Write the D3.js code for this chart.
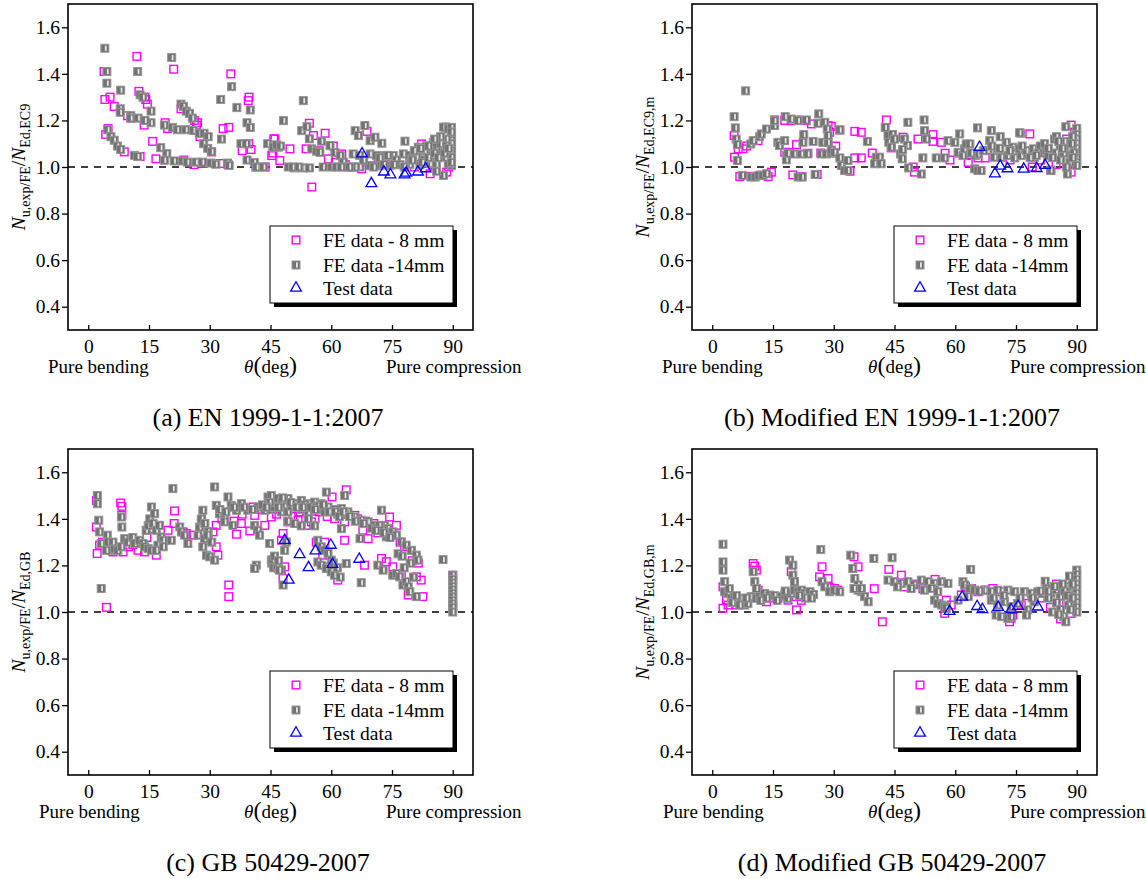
<!DOCTYPE html>
<html>
<head>
<meta charset="utf-8">
<script src="https://cdn.jsdelivr.net/npm/d3@7"></script>
<style>
  body { margin: 0; background: #fff; }
  svg { display: block; font-family: "Liberation Serif", "Times New Roman", serif; }
  svg text { font-family: "Liberation Serif", "Times New Roman", serif; }
</style>
</head>
<body>
<svg id="chart" width="1146" height="879"></svg>
<script>
// ---- data: [theta (deg), N_u,exp/FE / N_Ed] ----
const xTicks = [0, 15, 30, 45, 60, 75, 90];
const yTicks = [0.4, 0.6, 0.8, 1.0, 1.2, 1.4, 1.6];
const legendLabels = ['FE data - 8 mm', 'FE data -14mm', 'Test data'];
const captions = ['(a) EN 1999-1-1:2007', '(b) Modified EN 1999-1-1:2007',
                  '(c) GB 50429-2007', '(d) Modified GB 50429-2007'];
const ySubs = [['u,exp/FE', 'Ed,EC9'], ['u,exp/FE', 'Ed,EC9,m'],
               ['u,exp/FE', 'Ed,GB'], ['u,exp/FE', 'Ed,GB,m']];

// (a) EN 1999-1-1
const fe8A = [[3.9,1.41],[4.1,1.29],[5.4,1.30],[6.4,1.26],[12.0,1.475],[21.1,1.42],[12.5,1.325],[14.2,1.29],
  [14.6,1.27],[9.7,1.22],[10.5,1.21],[13.8,1.18],[19.0,1.19],[19.6,1.165],[22.9,1.25],[26.2,1.20],[26.7,1.18],
  [27.6,1.13],[30.4,1.065],[4.9,1.165],[4.3,1.14],[8.9,1.065],[12.8,1.045],[15.9,1.11],[16.7,1.035],[23.6,1.03],
  [26.1,1.01],[28.4,1.015],[32.5,1.015],[34.5,1.01],[35.2,1.40],[39.7,1.30],[39.5,1.285],[33.3,1.165],[34.7,1.17],
  [39.6,1.10],[38.0,1.07],[40.2,1.075],[41.4,1.00],[43.7,1.00],[45.8,1.12],[45.6,1.06],[46.1,1.121],[45.3,1.049],
  [47.3,1.028],[49.8,1.078],[54.6,1.188],[55.6,1.135],[58.5,1.145],[53.8,1.078],[55.2,0.914],[59.3,1.035],
  [62.6,1.056],[68.8,1.153],[65.0,0.999],[67.5,0.992],[69.6,1.006],[71.2,1.006],[71.6,1.035],[82.3,1.099],
  [84.4,0.971],[88.5,0.978],[88.3,1.171],[79.4,1.028],[61.0,1.02],[63.5,1.01],[74.0,1.01],[76.0,1.02],[80.5,1.0],
  [85.0,1.01],[87.0,1.05],[89.5,1.12],[86.0,1.09],[89.0,1.0],[60.5,1.09],[57.0,1.07],[14.0,1.30],[27.0,1.19]];
const fe14A = [[4.1,1.51],[4.6,1.41],[4.6,1.36],[8.0,1.33],[12.2,1.41],[20.6,1.47],[12.8,1.31],[13.5,1.30],
  [15.5,1.24],[15.5,1.19],[7.9,1.25],[7.9,1.235],[10.5,1.22],[10.5,1.21],[12.3,1.21],[14.0,1.20],[22.9,1.27],
  [23.5,1.26],[24.2,1.24],[25.0,1.23],[25.7,1.21],[18.8,1.18],[20.8,1.17],[22.0,1.16],[24.1,1.16],[26.0,1.157],
  [27.4,1.145],[28.6,1.145],[29.6,1.13],[28.5,1.10],[29.5,1.08],[30.5,1.065],[32.7,1.29],[35.4,1.345],[36.7,1.255],
  [32.9,1.12],[39.2,1.19],[40.0,1.17],[40.0,1.245],[37.7,1.10],[39.0,1.10],[39.2,1.03],[41.0,1.02],[44.3,1.10],
  [45.9,1.085],[4.8,1.16],[5.6,1.13],[6.4,1.115],[7.2,1.09],[8.0,1.075],[11.4,1.05],[12.2,1.045],[17.9,1.083],
  [19.4,1.057],[18.8,1.029],[21.2,1.026],[23.3,1.026],[24.5,1.021],[26.6,1.021],[28.2,1.021],[30.3,1.017],
  [31.5,1.012],[34.4,1.017],[34.8,1.007],[41.6,1.0],[43.3,1.0],[53.1,1.285],[48.2,1.199],[45.7,1.085],[46.9,1.085],
  [49.4,1.0],[51.0,0.996],[53.1,0.996],[54.6,0.996],[52.7,1.156],[54.0,1.173],[54.6,1.121],[57.6,1.111],
  [59.7,1.092],[60.9,1.063],[62.2,1.049],[63.0,1.021],[55.2,1.078],[56.4,1.068],[57.2,1.063],[58.0,1.0],[60.1,1.0],
  [61.3,1.0],[63.8,1.0],[65.4,1.0],[67.1,1.0],[65.9,1.156],[66.7,1.135],[68.3,1.178],[69.6,1.113],[70.8,1.128],
  [72.5,1.102],[65.4,1.056],[69.6,1.056],[71.2,1.049],[73.3,1.049],[75.3,1.049],[77.8,1.056],[79.4,1.049],
  [81.1,1.056],[69.6,1.006],[72.0,1.006],[74.5,1.006],[77.0,1.01],[79.4,1.01],[81.9,1.01],[84.4,1.014],[86.0,1.01],
  [78.2,1.111],[81.5,1.085],[83.6,1.092],[85.2,1.106],[86.4,1.116],[87.7,1.171],[88.9,1.163],[89.7,1.142],
  [89.7,1.113],[89.7,1.085],[89.7,1.056],[89.7,1.028],[89.7,1.006],[88.9,1.014],[88.1,1.042],[87.3,1.063],
  [86.0,1.085],[84.4,1.071],[83.1,1.063],[82.3,1.042],[81.1,1.042],[79.9,1.035],[87.7,0.964],[86.0,0.982],
  [89.7,1.17],[89.7,1.15],[89.7,1.10],[89.7,1.07],[89.7,1.04],[89.7,1.02],[88.5,1.12],[87.0,1.10],[85.0,1.05],
  [83.0,1.03],[80.5,1.07],[76.0,1.03],[74.0,1.05],[72.0,1.04],[67.0,1.05],[68.0,1.03],[66.0,1.0],[50.5,1.0],
  [52.0,1.0],[46.5,1.095],[47.5,1.09],[62.5,1.0],[64.5,1.0],[70.5,1.0],[73.0,1.01],[75.5,1.01],[78.0,1.0],
  [80.0,1.03],[82.5,1.02],[84.0,1.04],[85.5,1.06],[86.5,1.04],[88.0,1.06],[88.5,1.09],[87.0,1.13],[89.0,1.08],
  [85.5,1.12],[84.0,1.09],[82.0,1.08]];
const testA = [[67.6,1.057],[69.9,0.929],[73.0,0.979],[74.6,0.967],[78.1,0.967],[78.5,0.974],[81.4,0.979],[83.3,0.993]];

// (b) Modified EN 1999-1-1
const fe8B = [[5.4,1.135],[5.5,1.042],[6.4,1.078],[7.6,1.078],[6.8,0.959],[11.3,1.113],[13.8,0.959],[14.6,0.978],
  [15.4,1.202],[17.9,1.2],[19.5,1.199],[21.2,1.202],[23.2,1.199],[24.5,1.185],[28.6,1.178],[17.9,1.063],[19.1,1.063],
  [20.8,1.096],[23.6,1.059],[19.9,0.966],[22.1,0.959],[25.9,0.968],[29.4,1.175],[29.0,1.149],[31.5,1.159],
  [35.2,1.153],[36.8,1.149],[34.0,0.982],[35.2,1.039],[36.8,1.039],[43.0,1.202],[44.2,1.082],[47.1,1.128],
  [49.6,1.0],[49.9,0.978],[50.8,1.12],[54.5,1.139],[54.5,1.11],[56.6,1.106],[57.5,1.059],[64.0,1.049],[65.6,1.039],
  [67.4,1.039],[78.4,1.142],[88.6,1.18],[83.6,0.986],[88.6,0.978],[84.9,1.01],[86.0,1.09],[81.0,1.03],[79.0,1.0],
  [70.5,1.05],[73.5,1.03],[76.0,1.06],[89.5,1.15],[87.5,1.12],[82.5,1.07],[63.2,1.02],[61.0,1.06],[58.7,1.03],
  [39.5,1.06],[40.5,1.03],[26.8,1.06],[30.5,1.09],[8.5,1.09],[9.5,0.96],[12.0,0.965]];
const fe14B = [[5.4,1.216],[5.7,1.168],[5.9,1.12],[6.2,1.096],[6.2,1.028],[8.25,1.327],[9.5,1.099],[10.1,1.113],
  [11.7,1.13],[12.1,1.142],[13.4,1.163],[15.4,1.178],[15.4,1.199],[16.2,1.106],[16.6,1.092],[17.9,1.113],
  [18.3,1.049],[18.3,1.031],[18.7,1.059],[18.0,1.216],[19.5,1.206],[21.2,1.199],[23.2,1.202],[20.3,1.056],
  [22.0,1.056],[23.6,1.056],[22.4,1.106],[22.6,1.139],[24.9,1.11],[26.3,1.228],[26.1,1.188],[27.8,1.192],
  [26.9,1.056],[28.2,1.056],[29.4,1.059],[27.3,1.106],[28.6,1.106],[29.4,1.073],[28.4,1.163],[28.6,1.135],
  [30.2,1.063],[31.5,1.039],[31.9,1.006],[33.5,1.028],[32.7,0.985],[33.5,0.985],[31.5,1.159],[38.3,1.11],
  [40.5,1.042],[41.3,1.042],[40.1,1.014],[41.7,1.014],[42.7,1.17],[43.4,1.135],[43.6,1.106],[44.2,1.085],
  [46.5,1.056],[46.9,1.035],[47.5,1.12],[48.2,1.092],[48.3,1.192],[48.5,0.996],[52.3,1.202],[52.4,1.156],
  [52.9,1.12],[52.0,1.039],[51.6,0.97],[55.3,1.039],[57.4,1.039],[58.2,1.113],[59.9,1.106],[61.1,1.142],
  [60.7,1.063],[61.9,1.049],[62.3,1.078],[62.7,1.099],[63.6,1.099],[65.5,1.168],[64.8,0.992],[65.6,0.985],
  [66.4,0.985],[64.9,1.049],[65.7,1.056],[68.9,1.156],[68.5,1.113],[68.1,1.071],[69.7,1.042],[71.4,1.042],
  [73.0,1.049],[74.7,1.039],[76.3,1.049],[77.9,1.056],[79.6,1.042],[70.5,1.08],[72.6,1.106],[74.2,1.085],
  [75.9,1.078],[77.6,1.071],[79.3,1.078],[76.2,1.145],[71.1,1.13],[75.9,1.147],[7.4,0.964],[9.7,0.957],
  [10.6,0.957],[11.5,0.964],[12.5,0.964],[13.4,0.971],[21.2,0.957],[22.2,0.957],[25.4,0.968],[87.3,1.173],
  [90,1.166],[90,1.14],[90,1.12],[90,1.10],[90,1.08],[90,1.06],[90,1.04],[90,1.02],[90,1.007],[87.7,0.97],
  [83.6,0.986],[84.5,1.12],[85.9,1.09],[87.0,1.11],[88.0,1.08],[88.6,1.05],[84.9,1.06],[82.2,1.07],[86.0,1.03],
  [83.0,1.05],[81.0,1.09],[80.5,1.06],[82.0,1.1],[85.0,1.13],[89.0,1.13],[86.8,1.06],[88.3,1.02],[64.0,1.06],
  [67.0,1.07],[69.0,1.09],[71.0,1.08],[73.5,1.07],[76.5,1.09],[78.5,1.04],[80.0,1.05],[83.0,1.08],[84.0,1.04],
  [85.5,1.11],[86.5,1.08],[88.8,1.1],[89.3,1.06],[87.5,1.0],[89.0,1.04],[44.5,1.14],[45.0,1.12],[47.0,1.075]];
const testB = [[66.0,1.085],[69.8,0.971],[71.1,1.004],[72.9,0.993],[76.9,0.991],[80.1,0.994],[82.2,1.007]];

// (c) GB 50429
const fe8C = [[2.0,1.479],[2.0,1.365],[2.2,1.251],[2.8,1.287],[4.5,1.02],[8.0,1.468],[8.3,1.454],[8.3,1.415],
  [6.1,1.258],[8.6,1.258],[12.3,1.265],[13.9,1.258],[16.8,1.244],[15.6,1.358],[17.2,1.372],[18.9,1.308],[19.7,1.351],
  [21.3,1.434],[21.2,1.38],[23.4,1.344],[24.2,1.337],[29.6,1.308],[30.8,1.344],[31.6,1.28],[32.0,1.244],[31.6,1.372],
  [34.7,1.116],[34.7,1.066],[36.6,1.334],[37.8,1.38],[39.9,1.348],[41.1,1.415],[40.7,1.451],[43.6,1.372],[45.2,1.408],
  [48.1,1.337],[48.1,1.144],[48.5,1.194],[47.7,1.308],[49.3,1.387],[51.8,1.394],[53.8,1.372],[55.1,1.387],[56.3,1.30],
  [58.4,1.30],[57.9,1.244],[58.8,1.194],[60.4,1.173],[60.2,1.494],[63.7,1.525],[60.8,1.401],[63.3,1.387],[63.3,1.308],
  [61.6,1.137],[65.8,1.415],[67.8,1.351],[69.1,1.315],[68.2,1.201],[72.4,1.23],[73.6,1.216],[74.4,1.408],[76.1,1.372],
  [75.2,1.194],[77.3,1.158],[78.1,1.28],[79.0,1.073],[81.0,1.151],[82.2,1.137],[82.6,1.066],[90,1.158],[90,1.023],
  [11.0,1.29],[3.5,1.30],[14.5,1.32],[26.0,1.33],[10.0,1.28],[36.0,1.39],[45.6,1.44],[50.5,1.41],[54.0,1.43],
  [56.0,1.40],[59.0,1.41],[62.0,1.43],[66.5,1.40],[70.5,1.38],[71.5,1.34],[73.0,1.37],[33.0,1.40],[38.0,1.42],
  [42.0,1.44],[46.5,1.42],[52.0,1.43],[57.0,1.43],[64.0,1.42],[68.5,1.39],[75.8,1.33],[77.0,1.30],[80.0,1.22],
  [81.5,1.21]];
const fe14C = [[2.24,1.50],[2.24,1.465],[2.6,1.394],[2.8,1.344],[3.2,1.294],[3.2,1.101],[4.7,1.33],[4.9,1.30],
  [5.3,1.265],[4.5,1.265],[6.1,1.30],[6.5,1.27],[7.3,1.265],[8.2,1.28],[8.2,1.408],[8.3,1.365],[9.0,1.315],[9.8,1.30],
  [11.0,1.32],[11.5,1.294],[12.7,1.308],[13.5,1.294],[13.9,1.28],[14.8,1.272],[15.6,1.265],[14.3,1.351],[14.8,1.372],
  [15.2,1.40],[16.0,1.38],[15.6,1.451],[16.4,1.422],[16.8,1.351],[17.6,1.372],[18.0,1.322],[18.5,1.308],[17.2,1.287],
  [16.8,1.265],[18.5,1.28],[20.9,1.53],[20.5,1.308],[22.6,1.365],[23.0,1.344],[23.8,1.33],[24.6,1.294],[27.1,1.33],
  [27.5,1.365],[27.9,1.394],[28.3,1.437],[28.3,1.28],[29.2,1.244],[30.0,1.237],[31.2,1.223],[28.7,1.315],[29.6,1.344],
  [31.2,1.537],[31.6,1.458],[32.4,1.422],[33.7,1.415],[34.5,1.494],[35.3,1.458],[36.6,1.437],[37.8,1.465],[39.4,1.437],
  [33.7,1.387],[35.7,1.372],[41.5,1.201],[41.1,1.372],[41.9,1.351],[42.3,1.33],[41.9,1.451],[43.6,1.437],[44.4,1.494],
  [45.2,1.50],[46.0,1.465],[46.9,1.487],[47.7,1.472],[48.5,1.451],[49.3,1.487],[51.0,1.465],[52.6,1.479],[54.3,1.465],
  [55.9,1.472],[57.5,1.465],[59.2,1.451],[60.8,1.437],[62.5,1.444],[64.1,1.43],[65.8,1.408],[67.4,1.394],[69.1,1.387],
  [70.7,1.372],[72.4,1.365],[45.2,1.44],[47.7,1.43],[49.3,1.43],[52.6,1.44],[54.3,1.42],[57.5,1.44],[60.8,1.44],
  [63.3,1.42],[49.3,1.39],[51.0,1.38],[52.6,1.37],[55.9,1.37],[54.3,1.40],[46.0,1.45],[50.2,1.455],[53.5,1.46],
  [56.7,1.455],[58.4,1.43],[61.6,1.42],[44.8,1.47],[58.8,1.515],[63.3,1.50],[72.4,1.437],[73.2,1.372],[74.0,1.358],
  [75.2,1.344],[76.1,1.33],[77.3,1.301],[78.5,1.287],[79.8,1.265],[81.0,1.244],[81.4,1.223],[75.2,1.158],[76.1,1.165],
  [76.9,1.151],[77.7,1.116],[78.5,1.13],[79.0,1.108],[79.4,1.087],[81.0,1.066],[87.6,1.225],[90,1.158],[90,1.14],
  [90,1.125],[90,1.11],[90,1.095],[90,1.08],[90,1.065],[90,1.05],[90,1.035],[90,1.02],[90,1.0],[44.8,1.294],
  [45.2,1.223],[46.0,1.201],[46.9,1.187],[47.7,1.18],[48.5,1.265],[48.9,1.301],[48.1,1.116],[41.1,1.187],[56.7,1.308],
  [57.5,1.28],[58.4,1.265],[59.2,1.251],[60.0,1.223],[56.7,1.215],[57.5,1.201],[58.8,1.187],[60.0,1.173],[60.8,1.158],
  [63.7,1.208],[67.4,1.126],[71.5,1.201],[72.8,1.18],[67.1,1.315],[62.5,1.358],[71.9,1.372],[72.8,1.351],[73.6,1.323],
  [45.3,1.21],[45.8,1.19],[46.6,1.2],[47.2,1.18],[45.6,1.225],[28.0,1.40],[28.8,1.38],[29.5,1.33],[30.5,1.30],
  [32.5,1.44],[34.0,1.43],[36.0,1.45],[38.5,1.45],[40.5,1.44],[43.0,1.46],[44.0,1.45],[47.0,1.45],[48.0,1.49],
  [50.0,1.47],[51.5,1.45],[53.0,1.45],[55.0,1.45],[56.0,1.44],[58.0,1.46],[59.5,1.43],[61.0,1.43],[62.0,1.41],
  [63.0,1.43],[64.5,1.41],[66.0,1.39],[68.0,1.38],[70.0,1.36],[71.0,1.35],[73.0,1.34],[74.5,1.32],[76.5,1.25],
  [77.5,1.24],[79.5,1.21],[80.3,1.15],[78.0,1.19],[46.0,1.24],[47.0,1.22],[60.5,1.21],[61.5,1.19],[62.2,1.15]];
const testC = [[48.5,1.308],[49.5,1.137],[52.2,1.247],[54.4,1.191],[56.1,1.263],[59.9,1.287],[60.3,1.205],[66.9,1.227]];

// (d) Modified GB 50429
const fe8D = [[2.65,1.016],[2.65,1.108],[3.5,1.051],[3.9,1.03],[10.1,1.208],[10.5,1.197],[10.9,1.18],[11.3,1.094],
  [13.4,1.044],[16.2,1.059],[18.7,1.051],[20.8,1.066],[23.2,1.066],[24.1,1.08],[19.5,1.173],[20.3,1.13],[20.8,1.009],
  [26.5,1.151],[27.1,1.194],[28.6,1.144],[29.0,1.105],[30.2,1.101],[31.0,1.094],[35.0,1.237],[36.0,1.194],[35.6,1.101],
  [42.0,0.958],[43.6,1.183],[46.7,1.158],[47.5,1.108],[57.8,1.051],[57.4,0.994],[61.5,1.073],[64.0,1.101],[65.6,1.087],
  [67.3,1.094],[69.3,1.101],[71.4,1.087],[73.8,0.973],[74.2,0.987],[76.3,1.03],[77.6,1.037],[73.4,0.958],[88.6,0.994],
  [86.0,0.97],[85.0,1.12],[87.5,1.04],[89.0,1.1],[81.0,1.06],[79.0,1.07],[83.5,1.02],[6.0,1.03],[8.5,1.05],[14.0,1.06],
  [22.0,1.05],[40.0,1.1],[50.0,1.12],[52.0,1.10],[55.0,1.14],[59.0,1.03],[62.5,1.11]];
const fe14D = [[2.65,1.291],[2.65,1.215],[2.65,1.18],[3.06,1.13],[3.06,1.087],[3.9,1.08],[4.7,1.059],[5.5,1.066],
  [6.4,1.051],[7.2,1.059],[8.0,1.03],[8.8,1.037],[9.6,1.066],[10.9,1.059],[11.7,1.066],[12.9,1.08],[14.2,1.073],
  [10.1,1.173],[10.5,1.13],[10.9,1.101],[15.4,1.07],[17.1,1.066],[17.9,1.073],[18.7,1.059],[19.5,1.08],[20.3,1.094],
  [21.2,1.087],[22.0,1.094],[22.8,1.08],[24.1,1.087],[19.1,1.223],[19.9,1.201],[19.9,1.158],[20.3,1.13],[26.8,1.268],
  [27.1,1.13],[27.8,1.108],[29.0,1.087],[30.2,1.094],[31.5,1.087],[34.2,1.244],[34.7,1.187],[35.2,1.144],[36.0,1.116],
  [36.8,1.087],[37.6,1.066],[38.5,1.044],[36.0,1.094],[35.0,1.101],[36.8,1.101],[39.9,1.23],[44.4,1.233],[43.4,1.137],
  [45.0,1.13],[46.7,1.123],[48.3,1.13],[49.9,1.116],[51.6,1.137],[53.3,1.13],[54.9,1.123],[56.6,1.13],[58.2,1.123],
  [45.8,1.108],[49.1,1.101],[52.4,1.094],[54.1,1.101],[55.7,1.087],[54.9,1.051],[55.7,1.037],[56.6,1.03],[57.4,1.023],
  [57.8,1.016],[60.7,1.051],[61.9,1.13],[62.3,1.116],[63.6,1.101],[63.8,1.183],[63.2,1.066],[64.8,1.094],[67.3,1.094],
  [68.9,1.087],[70.5,1.094],[73.0,1.094],[74.7,1.087],[77.1,1.087],[78.8,1.08],[80.4,1.087],[68.9,1.051],[70.5,1.03],
  [72.2,1.044],[73.8,1.023],[75.4,1.037],[77.9,1.009],[79.6,1.044],[70.1,0.987],[71.4,0.98],[73.0,0.973],[73.8,0.98],
  [77.6,0.987],[90,1.18],[90,1.16],[90,1.14],[90,1.12],[90,1.10],[90,1.08],[90,1.06],[90,1.04],[90,1.02],[90,1.0],
  [87.7,1.11],[85.9,1.067],[86.8,0.98],[87.3,0.958],[84.0,1.0],[83.6,1.081],[82.2,1.132],[84.9,1.096],[88.2,1.154],
  [88.6,1.067],[81.5,1.08],[83.0,1.06],[85.0,1.04],[86.0,1.01],[87.0,1.09],[88.0,1.03],[89.0,1.12],[82.5,1.1],
  [5.0,1.04],[6.8,1.03],[4.2,1.1],[12.0,1.05],[16.0,1.05],[23.0,1.06],[25.0,1.075],[66.0,1.09],[69.5,1.06],
  [72.0,1.07],[76.0,1.06],[79.0,1.06],[81.0,1.09],[83.0,1.09],[84.5,1.11],[86.5,1.12],[87.8,1.07],[89.0,1.06],
  [88.5,1.01],[85.5,0.99],[8.5,1.06],[6.0,1.07],[13.5,1.06],[18.0,1.09],[21.5,1.07],[24.5,1.06]];
const testD = [[58.6,1.003],[61.7,1.064],[65.4,1.024],[66.7,1.011],[70.6,1.02],[73.8,1.01],[75.5,1.025],[80.4,1.022]];

// ---- layout ----
const W = 405, H = 326;
const panels = [
  {left: 68,  top: 4,   fe8: fe8A, fe14: fe14A, test: testA, bendDx: -20},
  {left: 692, top: 4,   fe8: fe8B, fe14: fe14B, test: testB, bendDx: -30},
  {left: 68,  top: 449, fe8: fe8C, fe14: fe14C, test: testC, bendDx: -29},
  {left: 692, top: 449, fe8: fe8D, fe14: fe14D, test: testD, bendDx: -29}
];
const pink = '#ff00ff', grayFill = '#737373', blue = '#0000ff';
const fontFam = '"Liberation Serif", "Times New Roman", serif';

const svg = d3.select('#chart');
const tri = d3.symbol().type(d3.symbolTriangle).size(50);

function pinkSquare(sel) {
  sel.append('rect').attr('x', -3.8).attr('y', -3.8).attr('width', 7.6).attr('height', 7.6)
    .attr('fill', 'none').attr('stroke', pink).attr('stroke-width', 1.4);
}
function graySquare(sel) {
  sel.append('rect').attr('x', -4).attr('y', -4).attr('width', 8).attr('height', 8)
    .attr('fill', grayFill).attr('stroke', '#969696').attr('stroke-width', 1);
  sel.append('rect').attr('x', 0).attr('y', -2.6).attr('width', 1.8).attr('height', 5.2)
    .attr('fill', '#e6e6e6');
}
function triangle(sel) {
  sel.append('path').attr('d', tri).attr('fill', 'none')
    .attr('stroke', blue).attr('stroke-width', 1.3);
}

panels.forEach((p, i) => {
  const g = svg.append('g').attr('transform', `translate(${p.left},${p.top})`);
  const x = d3.scaleLinear().domain([-5, 95]).range([0, W]);
  const y = d3.scaleLinear().domain([0.3, 1.7]).range([H, 0]);

  // axes: x ticks point inward, y ticks outward
  const xAxis = g.append('g').attr('transform', `translate(0,${H})`)
    .call(d3.axisBottom(x).tickValues(xTicks).tickSizeInner(-5).tickSizeOuter(0).tickPadding(9.5));
  const yAxis = g.append('g')
    .call(d3.axisLeft(y).tickValues(yTicks).tickSizeInner(6).tickSizeOuter(0).tickPadding(2)
      .tickFormat(d3.format('.1f')));
  [xAxis, yAxis].forEach(a => {
    a.select('.domain').remove();
    a.attr('font-size', 19.5).attr('font-family', fontFam);
    a.selectAll('.tick line').attr('stroke-width', 1.3);
  });

  // reference line
  g.append('line').attr('x1', 0).attr('x2', W).attr('y1', y(1.0)).attr('y2', y(1.0))
    .attr('stroke', '#000').attr('stroke-width', 1.4).attr('stroke-dasharray', '7,6');

  // data
  g.append('g').selectAll('g').data(p.fe8).join('g')
    .attr('transform', d => `translate(${x(d[0])},${y(d[1])})`).call(pinkSquare);
  g.append('g').selectAll('g').data(p.fe14).join('g')
    .attr('transform', d => `translate(${x(d[0])},${y(d[1])})`).call(graySquare);
  g.append('g').selectAll('g').data(p.test).join('g')
    .attr('transform', d => `translate(${x(d[0])},${y(d[1])})`).call(triangle);

  // frame
  g.append('rect').attr('width', W).attr('height', H)
    .attr('fill', 'none').attr('stroke', '#000').attr('stroke-width', 1.6);

  // legend
  const lx = 202, ly = 222, lw = 183, lh = 77;
  g.append('rect').attr('x', lx + 4).attr('y', ly + 4).attr('width', lw).attr('height', lh).attr('fill', '#000');
  g.append('rect').attr('x', lx).attr('y', ly).attr('width', lw).attr('height', lh)
    .attr('fill', '#fff').attr('stroke', '#000').attr('stroke-width', 1);
  const rows = [14, 39, 62];
  const drawers = [pinkSquare, graySquare, triangle];
  legendLabels.forEach((lab, k) => {
    g.append('g').attr('transform', `translate(${lx + 26},${ly + rows[k]})`).call(drawers[k]);
    g.append('text').attr('x', lx + 53).attr('y', ly + rows[k] + 6.5)
      .attr('font-size', 19.5).text(lab);
  });

  // x annotations
  const by = H + 43;
  g.append('text').attr('x', p.bendDx).attr('y', by).attr('font-size', 19).text('Pure bending');
  g.append('text').attr('x', 318).attr('y', by).attr('font-size', 19).text('Pure compression');
  const th = g.append('text').attr('x', W / 2).attr('y', by).attr('text-anchor', 'middle').attr('font-size', 19);
  th.append('tspan').attr('font-style', 'italic').text('θ');
  th.append('tspan').attr('font-size', 24).text('(');
  th.append('tspan').text('deg');
  th.append('tspan').attr('font-size', 24).text(')');

  // y label
  const yl = g.append('text').attr('text-anchor', 'middle').attr('font-size', 19.5)
    .attr('transform', `translate(-43,${H / 2}) rotate(-90)`);
  yl.append('tspan').attr('font-style', 'italic').text('N');
  yl.append('tspan').attr('font-size', 14).attr('dy', 5).text(ySubs[i][0]);
  yl.append('tspan').attr('dy', -5).text('/');
  yl.append('tspan').attr('font-style', 'italic').text('N');
  yl.append('tspan').attr('font-size', 14).attr('dy', 5).text(ySubs[i][1]);

  // caption
  g.append('text').attr('x', 200).attr('y', H + 96).attr('text-anchor', 'middle')
    .attr('font-size', 26).text(captions[i]);
});
</script>
</body>
</html>
